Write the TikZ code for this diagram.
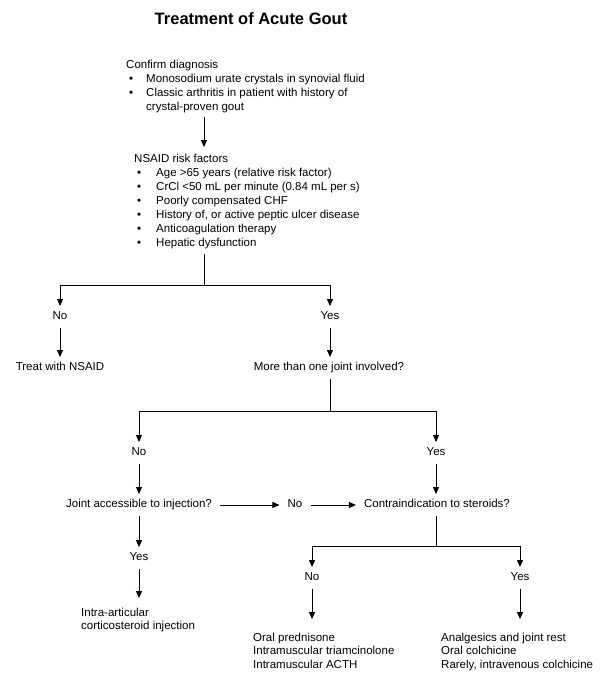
\documentclass[tikz,border=0pt]{standalone}
\usepackage{fontspec}
\setmainfont{Liberation Sans}
\usetikzlibrary{arrows.meta}
\newcommand\gbul[2]{\makebox[#1][l]{\hspace{3pt}\textbullet}#2}
\begin{document}
\begin{tikzpicture}[x=1pt,y=-1pt,
  font=\fontsize{11.5}{13.9}\selectfont,
  lbl/.style={inner xsep=8pt,inner ysep=5.5pt,text height=8pt,text depth=2.5pt,anchor=center},
  blk/.style={inner sep=0pt,anchor=base west},
  arr/.style={-{Triangle[length=7pt,width=6pt]},line width=0.9pt},
  ln/.style={line width=0.9pt}]
\fill[white] (0,0) rectangle (600,679);
\useasboundingbox (0,0) rectangle (600,679);
\node[font=\fontsize{16.5}{20}\selectfont\bfseries] (title) at (251,19) {Treatment of Acute Gout};
\node[blk] (diag) at (126,68.5) {\begin{tabular}[t]{@{}l@{}}Confirm diagnosis\\
 \gbul{20pt}{Monosodium urate crystals in synovial fluid}\\
 \gbul{20pt}{Classic arthritis in patient with history of}\\
 \hspace*{20pt}crystal-proven gout\end{tabular}};
\node[blk] (nsaid) at (134,163) {\begin{tabular}[t]{@{}l@{}}NSAID risk factors\\
 \gbul{22pt}{Age >65 years (relative risk factor)}\\
 \gbul{22pt}{CrCl <50 mL per minute (0.84 mL per s)}\\
 \gbul{22pt}{Poorly compensated CHF}\\
 \gbul{22pt}{History of, or active peptic ulcer disease}\\
 \gbul{22pt}{Anticoagulation therapy}\\
 \gbul{22pt}{Hepatic dysfunction}\end{tabular}};
\coordinate (j1) at (204,285);
\node[lbl] (no1) at (60,317) {No};
\node[lbl] (yes1) at (330,317) {Yes};
\node[lbl] (treat) at (60,368) {Treat with NSAID};
\node[lbl] (more) at (329,368) {More than one joint involved?};
\coordinate (j2) at (330,411);
\node[lbl] (no2) at (139,453) {No};
\node[lbl] (yes2) at (436,453) {Yes};
\node[lbl] (joint) at (139,505) {Joint accessible to injection?};
\node[lbl] (no3) at (295,505) {No};
\node[lbl] (contra) at (437,505) {Contraindication to steroids?};
\node[lbl] (yes3) at (139,558) {Yes};
\coordinate (j3) at (436,546);
\node[lbl] (no4) at (312,578) {No};
\node[lbl] (yes4) at (520,578) {Yes};
\node[blk] (intra) at (81,616) {\begin{tabular}[t]{@{}l@{}}Intra-articular\\corticosteroid injection\end{tabular}};
\node[blk] (oral) at (253,641) {\begin{tabular}[t]{@{}l@{}}Oral prednisone\\Intramuscular triamcinolone\\Intramuscular ACTH\end{tabular}};
\node[blk] (analg) at (441,641) {\begin{tabular}[t]{@{}l@{}}Analgesics and joint rest\\Oral colchicine\\Rarely, intravenous colchicine\end{tabular}};
% connectors
\draw[arr,shorten <=2.5pt,shorten >=6pt] (diag.south -| j1) -- (nsaid.north -| j1);
\draw[ln,shorten <=3pt] (nsaid.south -| j1) -- (j1);
\draw[arr] (j1) -| (no1.north);
\draw[arr] (j1) -| (yes1.north);
\draw[arr] (no1.south) -- (treat.north);
\draw[arr] (yes1.south) -- (yes1.south |- more.north);
\draw[ln] (more.south -| j2) -- (j2);
\draw[arr] (j2) -| (no2.north);
\draw[arr] (j2) -| (yes2.north);
\draw[arr] (no2.south) -- (no2.south |- joint.north);
\draw[arr] (yes2.south) -- (yes2.south |- contra.north);
\draw[arr] (joint.east) -- (no3.west);
\draw[arr] (no3.east) -- (contra.west);
\draw[ln] (contra.south -| j3) -- (j3);
\draw[arr] (j3) -| (no4.north);
\draw[arr] (j3) -| (yes4.north);
\draw[arr] (joint.south -| yes3) -- (yes3.north);
\draw[arr,shorten >=8pt] (yes3.south) -- (intra.north -| yes3);
\draw[arr,shorten >=12pt] (no4.south) -- (oral.north -| no4);
\draw[arr,shorten >=12pt] (yes4.south) -- (analg.north -| yes4);
\end{tikzpicture}
\end{document}
